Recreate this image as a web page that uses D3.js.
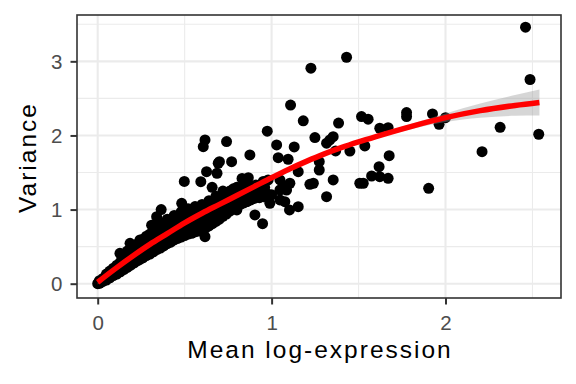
<!DOCTYPE html>
<html><head><meta charset="utf-8">
<script src="https://cdn.jsdelivr.net/npm/d3@7"></script>
<style>
html,body{margin:0;padding:0;background:#fff;}
svg{display:block;}
</style></head>
<body>
<svg id="chart" width="576" height="384"></svg>
<script>
// ---- data ----
const xTicks = [0, 1, 2];
const yTicks = [0, 1, 2, 3];
const xMinor = [0.5, 1.5, 2.5];
const yMinor = [0.5, 1.5, 2.5, 3.5];
const xTitle = "Mean log-expression";
const yTitle = "Variance";

// [mean log-expression, variance]
const genePoints = [
[0,0],[0.005,0.01],[0.01,0.005],[0.015,0.03],[0.02,0.02],[0.01,0.04],
[0.03,0.03],[0.03,0.07],
[0.05,0.05],[0.05,0.10],[0.05,0.13],
[0.07,0.08],[0.07,0.13],[0.07,0.17],
[0.09,0.11],[0.09,0.16],[0.09,0.21],
[0.11,0.13],[0.11,0.19],[0.11,0.25],
[0.13,0.16],[0.13,0.22],[0.13,0.29],[0.128,0.41],
[0.15,0.19],[0.15,0.26],[0.15,0.33],
[0.17,0.22],[0.17,0.30],[0.17,0.38],[0.17,0.44],
[0.19,0.25],[0.19,0.33],[0.19,0.41],[0.186,0.545],
[0.21,0.28],[0.21,0.36],[0.21,0.44],[0.21,0.50],
[0.23,0.31],[0.23,0.39],[0.23,0.47],[0.23,0.54],
[0.245,0.33],[0.245,0.41],[0.245,0.50],[0.243,0.59],
[0.26,0.35],[0.26,0.44],[0.26,0.53],[0.26,0.60],
[0.28,0.38],[0.28,0.47],[0.28,0.56],[0.28,0.64],
[0.30,0.40],[0.30,0.49],[0.30,0.58],[0.30,0.67],[0.31,0.79],
[0.32,0.43],[0.32,0.52],[0.32,0.61],[0.32,0.70],
[0.34,0.46],[0.34,0.55],[0.34,0.64],[0.34,0.73],[0.339,0.904],
[0.36,0.48],[0.36,0.57],[0.36,0.66],[0.36,0.75],[0.36,0.82],[0.365,1.0],
[0.38,0.51],[0.38,0.60],[0.38,0.69],[0.38,0.78],
[0.40,0.54],[0.40,0.63],[0.40,0.72],[0.40,0.81],[0.40,0.87],
[0.42,0.56],[0.42,0.65],[0.42,0.74],[0.42,0.83],
[0.44,0.59],[0.44,0.68],[0.44,0.77],[0.44,0.86],[0.44,0.92],
[0.46,0.61],[0.46,0.70],[0.46,0.79],[0.46,0.88],
[0.48,0.63],[0.48,0.72],[0.48,0.81],[0.48,0.90],[0.48,0.97],[0.483,1.085],
[0.50,0.65],[0.50,0.74],[0.50,0.83],[0.50,0.92],[0.498,1.38],
[0.52,0.67],[0.52,0.76],[0.52,0.85],[0.52,0.94],[0.52,1.01],
[0.54,0.68],[0.54,0.77],[0.54,0.86],[0.54,0.95],
[0.56,0.70],[0.56,0.79],[0.56,0.88],[0.56,0.97],[0.56,1.04],
[0.58,0.71],[0.58,0.80],[0.58,0.89],[0.58,0.98],
[0.60,0.73],[0.60,0.82],[0.60,0.91],[0.60,1.00],[0.60,1.07],
[0.62,0.75],[0.62,0.84],[0.62,0.93],[0.62,1.02],[0.617,0.634],
[0.64,0.78],[0.64,0.87],[0.64,0.96],[0.64,1.05],[0.64,1.12],
[0.66,0.81],[0.66,0.90],[0.66,0.99],[0.66,1.08],
[0.68,0.84],[0.68,0.93],[0.68,1.02],[0.68,1.11],[0.68,1.18],
[0.70,0.87],[0.70,0.96],[0.70,1.05],[0.70,1.14],
[0.72,0.91],[0.72,1.00],[0.72,1.09],[0.72,1.18],
[0.74,0.94],[0.74,1.03],[0.74,1.12],[0.74,1.21],
[0.76,0.98],[0.76,1.07],[0.76,1.16],[0.76,1.25],
[0.78,1.01],[0.78,1.10],[0.78,1.19],[0.78,1.28],
[0.80,1.04],[0.80,1.13],[0.80,1.22],[0.80,1.30],
[0.82,1.07],[0.82,1.16],[0.82,1.25],
[0.84,1.09],[0.84,1.18],[0.84,1.27],[0.84,1.35],
[0.86,1.11],[0.86,1.20],[0.86,1.30],
[0.88,1.13],[0.88,1.22],[0.88,1.32],
[0.90,1.15],[0.90,1.25],
[0.93,1.16],[0.93,1.28],
[0.96,1.17],[0.96,1.30],
[1.00,1.20],
[0.593,1.376],[0.607,1.849],[0.617,1.939],[0.626,1.511],[0.686,1.49],[0.658,1.30],
[0.70,1.646],[0.77,1.646],[0.693,1.625],[0.741,1.917],[0.72,1.25],[0.77,1.22],
[0.83,1.42],[0.866,1.43],[0.875,1.737],[0.975,2.057],[0.91,1.33],[0.952,1.38],
[0.98,1.40],[0.99,1.085],[0.904,0.927],[0.948,0.81],[0.856,1.107],
[1.029,1.872],[1.038,1.70],[1.095,1.679],[1.109,2.41],[1.182,2.198],[1.249,1.971],
[1.354,1.984],[1.316,1.895],[1.335,1.94],[1.13,1.845],[1.274,1.646],[1.274,1.534],
[1.153,1.511],[1.048,1.40],[1.067,1.309],[1.086,1.264],[1.048,1.264],[1.22,1.341],
[1.24,1.355],[1.354,1.40],[1.507,1.355],[1.316,1.174],[0.78,1.17],[0.80,1.10],
[0.84,1.19],[0.971,1.22],[1.048,1.13],[1.076,1.107],[1.153,1.039],[1.103,0.995],
[0.80,0.995],[0.76,1.039],[1.45,1.79],[1.385,2.167],[1.105,1.355],
[2.46,3.46],[2.486,2.755],[2.536,2.016],[2.314,2.11],[2.21,1.781],[1.903,1.287],
[1.431,3.055],[1.226,2.907],[1.776,2.308],[1.776,2.254],[1.925,2.29],[1.963,2.15],
[2.0,2.24],[1.517,2.254],[1.555,2.219],[1.622,2.097],[1.67,2.105],[1.536,1.858],
[1.676,1.727],[1.618,1.579],[1.575,1.453],[1.622,1.444],[1.67,1.422],[1.527,1.355],
[1.368,1.791]
];

// fitted trend (red) with confidence band (grey)
const fitX     = [0,0.1,0.2,0.3,0.4,0.5,0.6,0.7,0.8,0.9,1.0,1.1,1.2,1.3,1.4,1.5,1.6,1.8,2.0,2.2,2.4,2.54];
const fitY     = [0.02,0.20,0.37,0.53,0.675,0.82,0.95,1.07,1.19,1.31,1.43,1.545,1.65,1.748,1.835,1.913,1.985,2.12,2.24,2.335,2.405,2.445];
const fitLower = [-0.01,0.18,0.355,0.515,0.66,0.805,0.935,1.055,1.175,1.295,1.415,1.53,1.632,1.728,1.815,1.891,1.96,2.085,2.183,2.24,2.265,2.27];
const fitUpper = [0.05,0.22,0.385,0.545,0.69,0.835,0.965,1.085,1.205,1.325,1.445,1.56,1.668,1.768,1.855,1.935,2.01,2.155,2.297,2.43,2.545,2.62];

// ---- drawing ----
const W = 576, H = 384;
const P = {left: 77, right: 561, top: 15, bottom: 298};
const svg = d3.select("#chart");
svg.append("rect").attr("width", W).attr("height", H).attr("fill", "#fff");

const x = d3.scaleLinear().domain([-0.119, 2.664]).range([P.left, P.right]);
const y = d3.scaleLinear().domain([-0.193, 3.625]).range([P.bottom, P.top]);

const font = "'Liberation Sans', Arial, Helvetica, sans-serif";

svg.append("clipPath").attr("id", "clip").append("rect")
  .attr("x", P.left).attr("y", P.top)
  .attr("width", P.right - P.left).attr("height", P.bottom - P.top);

const grid = svg.append("g");
grid.selectAll(".xm").data(xMinor).join("line")
  .attr("x1", d => x(d)).attr("x2", d => x(d)).attr("y1", P.top).attr("y2", P.bottom)
  .attr("stroke", "#EBEBEB").attr("stroke-width", 1.1);
grid.selectAll(".ym").data(yMinor).join("line")
  .attr("y1", d => y(d)).attr("y2", d => y(d)).attr("x1", P.left).attr("x2", P.right)
  .attr("stroke", "#EBEBEB").attr("stroke-width", 1.1);
grid.selectAll(".xM").data(xTicks).join("line")
  .attr("x1", d => x(d)).attr("x2", d => x(d)).attr("y1", P.top).attr("y2", P.bottom)
  .attr("stroke", "#EBEBEB").attr("stroke-width", 2.1);
grid.selectAll(".yM").data(yTicks).join("line")
  .attr("y1", d => y(d)).attr("y2", d => y(d)).attr("x1", P.left).attr("x2", P.right)
  .attr("stroke", "#EBEBEB").attr("stroke-width", 2.1);

const plot = svg.append("g").attr("clip-path", "url(#clip)");
plot.selectAll("circle").data(genePoints).join("circle")
  .attr("cx", d => x(d[0])).attr("cy", d => y(d[1])).attr("r", 5.5)
  .attr("fill", "#000");

const fitData = fitX.map((v, i) => ({x: v, y: fitY[i], lo: fitLower[i], hi: fitUpper[i]}));
plot.append("path").datum(fitData)
  .attr("d", d3.area().x(d => x(d.x)).y0(d => y(d.lo)).y1(d => y(d.hi)).curve(d3.curveMonotoneX))
  .attr("fill", "#999999").attr("fill-opacity", 0.4);
plot.append("path").datum(fitData)
  .attr("d", d3.line().x(d => x(d.x)).y(d => y(d.y)).curve(d3.curveMonotoneX))
  .attr("fill", "none").attr("stroke", "#FF0000").attr("stroke-width", 5.5);

// panel border
svg.append("rect").attr("x", P.left).attr("y", P.top)
  .attr("width", P.right - P.left).attr("height", P.bottom - P.top)
  .attr("fill", "none").attr("stroke", "#333333").attr("stroke-width", 1.6);

// axes
const gx = svg.append("g").attr("transform", `translate(0,${P.bottom})`)
  .call(d3.axisBottom(x).tickValues(xTicks).tickSize(6.5).tickPadding(3).tickFormat(d3.format("d")));
const gy = svg.append("g").attr("transform", `translate(${P.left},0)`)
  .call(d3.axisLeft(y).tickValues(yTicks).tickSize(6.5).tickPadding(8).tickFormat(d3.format("d")));
[gx, gy].forEach(g => {
  g.select(".domain").remove();
  g.selectAll(".tick line").attr("stroke", "#333333").attr("stroke-width", 2);
  g.selectAll(".tick text").attr("fill", "#4D4D4D").style("font-family", font).style("font-size", "20.5px");
});
gx.selectAll(".tick text").attr("y", 32).attr("dy", null);
gy.selectAll(".tick text").attr("dy", "0.34em");

svg.append("text").attr("x", (P.left + P.right) / 2 + 1).attr("y", 358)
  .attr("text-anchor", "middle").style("font-family", font).style("font-size", "24.5px")
  .style("letter-spacing", "2px").attr("fill", "#000").text(xTitle);
svg.append("text")
  .attr("transform", `translate(36,${(P.top + P.bottom) / 2 + 1}) rotate(-90)`)
  .attr("text-anchor", "middle").style("font-family", font).style("font-size", "24.5px")
  .style("letter-spacing", "2px").attr("fill", "#000").text(yTitle);
</script>
</body></html>
